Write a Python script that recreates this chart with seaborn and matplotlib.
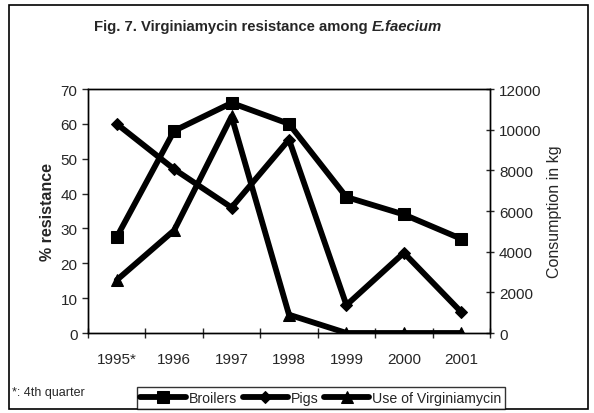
import numpy as np
import pandas as pd
import matplotlib.pyplot as plt
import seaborn as sns
from matplotlib.patches import Rectangle
from matplotlib.ticker import FixedLocator

years = ['1995*', '1996', '1997', '1998', '1999', '2000', '2001']
broilers = [27.5, 58, 66, 60, 39, 34, 27]
pigs = [60, 47, 36, 55.5, 8, 23, 6]
virginiamycin = [2600, 5050, 10650, 900, 0, 0, 0]

sns.set_style('white')
plt.rcParams['font.family'] = ['Liberation Sans', 'DejaVu Sans']

df = pd.DataFrame({'year': years, 'Broilers': broilers, 'Pigs': pigs,
                   'Use of Virginiamycin': virginiamycin})
df['pos'] = np.arange(len(years))

fig = plt.figure(figsize=(5.94, 4.14), dpi=100)
fig.patches.append(Rectangle((0.015, 0.01), 0.975, 0.975, transform=fig.transFigure,
                             fill=False, edgecolor='black', linewidth=1.2))
ax = fig.add_axes([88 / 594, 1 - 334 / 414, 402 / 594, 244 / 414])
ax2 = ax.twinx()

lw = 4.2
sns.lineplot(data=df, x='pos', y='Broilers', ax=ax, color='black', lw=lw,
             marker='s', markersize=9, markeredgecolor='black', label='Broilers', legend=False)
sns.lineplot(data=df, x='pos', y='Pigs', ax=ax, color='black', lw=lw,
             marker='D', markersize=6, markeredgecolor='black', label='Pigs', legend=False)
sns.lineplot(data=df, x='pos', y='Use of Virginiamycin', ax=ax2, color='black', lw=lw,
             marker='^', markersize=9, markeredgecolor='black', label='Use of Virginiamycin',
             legend=False)

ax.set_xlim(-0.5, len(years) - 0.5)
ax.set_ylim(0, 70)
ax.set_yticks(range(0, 71, 10))
ax2.set_ylim(0, 12000)
ax2.set_yticks(range(0, 12001, 2000))

ax.set_xticks(df['pos'])
ax.set_xticklabels(years)
ax.xaxis.set_minor_locator(FixedLocator(np.arange(-0.5, len(years), 1.0)))
ax.tick_params(axis='x', which='major', length=0, pad=14, labelsize=11)
ax.tick_params(axis='x', which='minor', length=7, direction='inout', width=1, bottom=True)
ax.tick_params(axis='y', length=4, direction='out', width=1, labelsize=11, left=True)
ax2.tick_params(axis='y', length=6, direction='inout', width=1, labelsize=11, right=True)

ax.set_xlabel('')
ax.set_ylabel('% resistance', fontsize=11.5, fontweight='bold')
ax2.set_ylabel('Consumption in kg', fontsize=11.5)

for a in (ax, ax2):
    for s in a.spines.values():
        s.set_color('black')
        s.set_linewidth(1)

fig.text(372 / 594, 1 - 27 / 414, 'Fig. 7. Virginiamycin resistance among ', ha='right',
         va='center', fontsize=10.7, fontweight='bold')
fig.text(372 / 594, 1 - 27 / 414, 'E.faecium', ha='left', va='center',
         fontsize=10.7, fontweight='bold', style='italic')
fig.text(12 / 594, 1 - 393 / 414, '*: 4th quarter', ha='left', va='center', fontsize=9)

h1, l1 = ax.get_legend_handles_labels()
h2, l2 = ax2.get_legend_handles_labels()
leg = fig.legend(h1 + h2, l1 + l2, loc='center', bbox_to_anchor=(321 / 594, 1 - 399 / 414),
                 ncol=3, frameon=True, fancybox=False, edgecolor='black', fontsize=10.2,
                 handlelength=3.2, handletextpad=0.2, columnspacing=0.4, borderpad=0.25)
leg.get_frame().set_linewidth(1)

fig.savefig('out.png', dpi=100)
